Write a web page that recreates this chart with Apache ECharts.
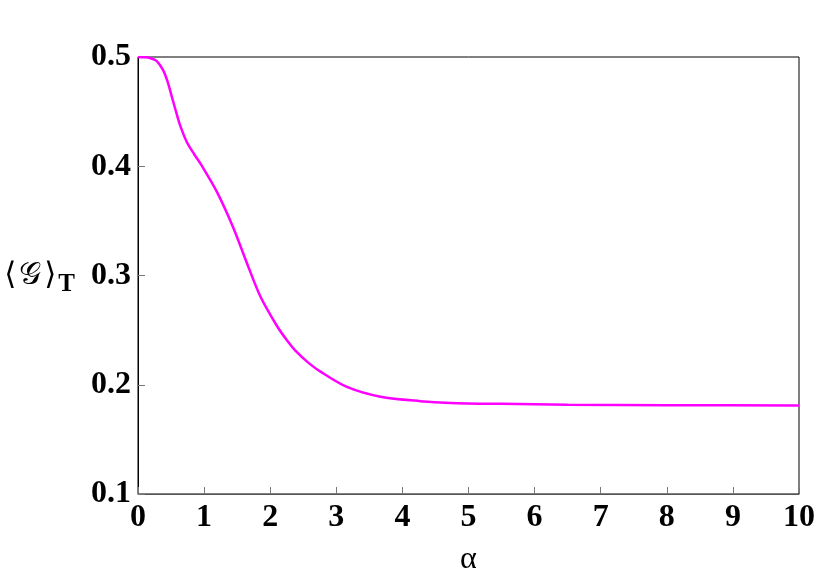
<!DOCTYPE html>
<html>
<head>
<meta charset="utf-8">
<script src="https://cdn.jsdelivr.net/npm/echarts@6/dist/echarts.min.js"></script>
<style>
  html, body { margin: 0; padding: 0; background: #fff; }
  #chart { width: 830px; height: 581px; }
</style>
</head>
<body>
<div id="chart"></div>
<script>
// α values and ⟨G⟩_T
const alphaValues = [0, 0.1, 0.18, 0.28, 0.38, 0.45, 0.51, 0.58, 0.64, 0.74, 0.85, 0.96, 1.19, 1.44, 1.65, 1.85, 2.1, 2.25, 2.4, 2.58, 2.76, 3.16, 3.67, 4.27, 4.73, 5.5, 6.5, 8, 10]
const gValues = [0.5, 0.4997, 0.499, 0.4965, 0.488, 0.477, 0.464, 0.449, 0.437, 0.422, 0.411, 0.401, 0.377, 0.344, 0.311, 0.281, 0.254, 0.241, 0.230, 0.220, 0.212, 0.198, 0.189, 0.185, 0.1834, 0.1825, 0.1817, 0.1812, 0.1811]

const chart = echarts.init(document.getElementById('chart'))

const tickFont = {
  fontFamily: 'Liberation Serif',
  fontWeight: 'bold',
  fontSize: 32,
  color: '#000'
}

const option = {
  animation: false,
  grid: {
    left: 138,
    right: 31,
    top: 57,
    bottom: 81,
    show: true,
    borderColor: '#000',
    borderWidth: 1
  },
  xAxis: {
    type: 'value',
    min: 0,
    max: 10,
    interval: 1,
    name: 'α',
    nameLocation: 'middle',
    nameGap: 50,
    nameTextStyle: { fontFamily: 'Liberation Serif', fontSize: 32, color: '#000' },
    axisLine: { lineStyle: { color: '#555', width: 1 } },
    axisTick: { inside: true, length: 7, lineStyle: { color: '#777' } },
    axisLabel: Object.assign({ margin: 8 }, tickFont),
    splitLine: { show: false }
  },
  yAxis: {
    type: 'value',
    min: 0.1,
    max: 0.5,
    interval: 0.1,
    name: '{b|⟨}{g|𝒢}{b|⟩}{s|T}',
    nameLocation: 'middle',
    nameRotate: 0,
    nameGap: 63,
    nameTextStyle: {
      align: 'right',
      rich: {
        b: { fontFamily: 'DejaVu Serif', fontSize: 31, color: '#000' },
        g: { fontFamily: 'DejaVu Serif', fontSize: 31, color: '#000', padding: [0, 3, 0, 3] },
        s: { fontFamily: 'Liberation Serif', fontWeight: 'bold', fontSize: 25, color: '#000', padding: [18, 0, 0, 2] }
      }
    },
    axisLine: { show: true, lineStyle: { color: '#000', width: 1 } },
    axisTick: { inside: true, length: 7, lineStyle: { color: '#777' } },
    axisLabel: Object.assign({ margin: 7, formatter: v => v.toFixed(1) }, tickFont),
    splitLine: { show: false }
  },
  series: [
    {
      type: 'line',
      data: alphaValues.map((a, i) => [a, gValues[i]]),
      smooth: 0.3,
      showSymbol: false,
      lineStyle: { color: '#ff00ff', width: 2.5 }
    }
  ]
}

chart.setOption(option)
</script>
</body>
</html>
